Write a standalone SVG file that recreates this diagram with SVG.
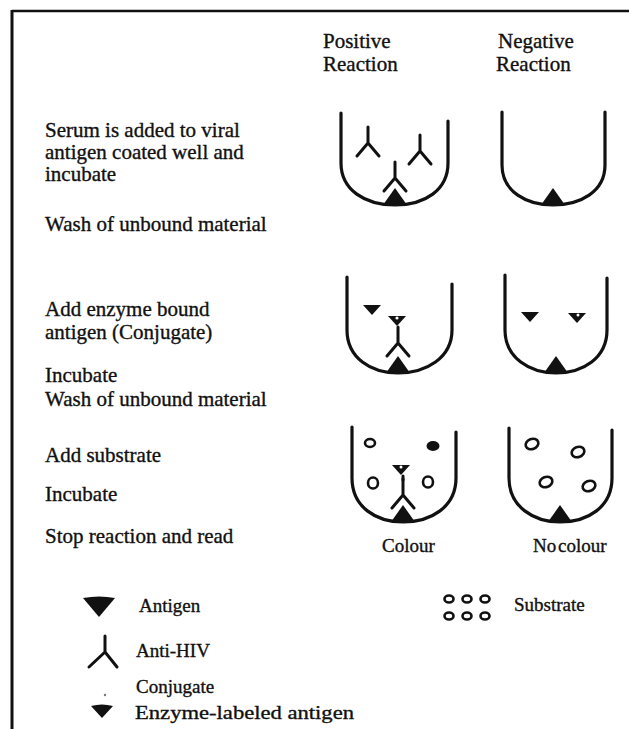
<svg xmlns="http://www.w3.org/2000/svg" xmlns:xlink="http://www.w3.org/1999/xlink" width="629" height="729" viewBox="0 0 629 729">
  <style>
    text { font-family: "Liberation Serif", "Times New Roman", serif; fill: #111; stroke: #111; stroke-width: 0.35; }
    .hdr { font-size: 21px; }
    .step { font-size: 21px; }
    .lg { font-size: 19px; }
    .well { fill: none; stroke: #111; stroke-width: 3.2; stroke-linecap: round; stroke-linejoin: round; }
    .ab { fill: none; stroke: #111; stroke-width: 3; stroke-linecap: round; stroke-linejoin: round; }
    .solid { fill: #111; stroke: none; }
    .sub { fill: none; stroke: #111; stroke-width: 2.6; }
    .frame { stroke: #111; fill: none; }
  </style>
  <defs>
    <!-- antibody: stem above, two arms spreading downward; origin at the fork -->
    <path id="ab" class="ab" d="M0,-16 V0 M-11,13 L0,0 L11,13"/>
    <!-- coated antigen: upward triangle, origin at base centre -->
    <polygon id="ag" class="solid" points="-12,0 0,-17 12,0"/>
    <!-- enzyme-labelled antigen: small downward triangle, origin at top centre -->
    <polygon id="conj" class="solid" points="-9,0 9,0 0,10"/>
  </defs>

  <rect width="629" height="729" fill="#fff"/>

  <!-- frame -->
  <g id="frame">
    <line class="frame" x1="12" y1="11" x2="629" y2="11" stroke-width="2.5"/>
    <line class="frame" x1="12" y1="10" x2="12" y2="729" stroke-width="3"/>
  </g>

  <!-- column headers -->
  <g id="header-positive">
    <text class="hdr" x="323" y="48">Positive</text>
    <text class="hdr" x="323" y="71">Reaction</text>
  </g>
  <g id="header-negative">
    <text class="hdr" x="498" y="48">Negative</text>
    <text class="hdr" x="496" y="71">Reaction</text>
  </g>

  <!-- procedure steps -->
  <g id="step-1">
    <text class="step" x="45" y="137">Serum is added to viral</text>
    <text class="step" x="45" y="159">antigen coated well and</text>
    <text class="step" x="45" y="181">incubate</text>
    <text class="step" x="45" y="231">Wash of unbound material</text>
  </g>
  <g id="step-2">
    <text class="step" x="45" y="316">Add enzyme bound</text>
    <text class="step" x="45" y="339">antigen (Conjugate)</text>
    <text class="step" x="45" y="382">Incubate</text>
    <text class="step" x="45" y="406">Wash of unbound material</text>
  </g>
  <g id="step-3">
    <text class="step" x="45" y="462">Add substrate</text>
    <text class="step" x="45" y="501">Incubate</text>
    <text class="step" x="45" y="543">Stop reaction and read</text>
  </g>

  <!-- row 1: serum on antigen-coated wells -->
  <g id="well-pos-1">
    <path class="well" d="M341,113 V163 C341,190 365,205 395,205 C425,205 448,190 448,163 V121"/>
    <use xlink:href="#ag" x="395" y="205"/>
    <use xlink:href="#ab" x="368" y="143"/>
    <use xlink:href="#ab" x="420" y="151"/>
    <use xlink:href="#ab" x="395" y="178"/>
  </g>
  <g id="well-neg-1">
    <path class="well" d="M502,112 V165 C502,192 527,205 553,205 C580,205 605,192 605,165 V112"/>
    <use xlink:href="#ag" x="553" y="205"/>
  </g>

  <!-- row 2: conjugate added -->
  <g id="well-pos-2">
    <path class="well" d="M347,277 V330 C347,358 371,373 398,373 C426,373 452,358 452,330 V284"/>
    <use xlink:href="#ag" x="398" y="373"/>
    <use xlink:href="#ab" x="398" y="343"/>
    <use xlink:href="#conj" x="397" y="316"/>
    <circle cx="397" cy="318" r="1.6" fill="#fff"/>
    <use xlink:href="#conj" x="372" y="305"/>
  </g>
  <g id="well-neg-2">
    <path class="well" d="M505,275 V330 C505,358 530,373 556,373 C583,373 607,358 607,330 V278"/>
    <use xlink:href="#ag" x="556" y="373"/>
    <use xlink:href="#conj" x="530" y="312"/>
    <use xlink:href="#conj" x="577" y="313"/>
    <circle cx="578" cy="315" r="1.5" fill="#fff"/>
  </g>

  <!-- row 3: substrate added -->
  <g id="well-pos-3">
    <path class="well" d="M352,427 V478 C352,507 376,522 403,522 C431,522 456,507 456,478 V432"/>
    <use xlink:href="#ag" x="403" y="522"/>
    <use xlink:href="#ab" x="403" y="495"/>
    <line class="ab" x1="403" y1="476" x2="403" y2="480"/>
    <use xlink:href="#conj" x="401" y="465"/>
    <circle cx="401" cy="467" r="1.5" fill="#fff"/>
    <ellipse class="sub" cx="370" cy="443" rx="5" ry="4" stroke-width="3.2"/>
    <ellipse cx="433" cy="446" rx="6.5" ry="5" fill="#111"/>
    <ellipse class="sub" cx="373" cy="483" rx="5" ry="5.5"/>
    <ellipse class="sub" cx="428" cy="482" rx="5" ry="5.5"/>
    <text class="lg" x="382" y="552" font-size="18">Colour</text>
  </g>
  <g id="well-neg-3">
    <path class="well" d="M509,428 V478 C509,507 534,522 560,522 C588,522 612,507 612,478 V430"/>
    <use xlink:href="#ag" x="560" y="522"/>
    <ellipse class="sub" cx="532" cy="444" rx="6.5" ry="5" transform="rotate(-20 532 444)"/>
    <ellipse class="sub" cx="578" cy="452" rx="6.5" ry="5" transform="rotate(-20 578 452)"/>
    <ellipse class="sub" cx="546" cy="482" rx="6.5" ry="5" transform="rotate(-20 546 482)"/>
    <ellipse class="sub" cx="589" cy="486" rx="6.5" ry="5" transform="rotate(-20 589 486)"/>
    <text class="lg" x="533" y="552" font-size="19" word-spacing="-3">No colour</text>
  </g>

  <!-- legend -->
  <g id="legend-antigen">
    <path class="solid" d="M83,598 Q99,595 115,598 L99,617 Z"/>
    <text class="lg" x="139" y="612">Antigen</text>
  </g>
  <g id="legend-anti-hiv">
    <path class="ab" d="M105,636 V652 M89,667 L105,652 L117,667"/>
    <text class="lg" x="136" y="657" font-size="20">Anti-HIV</text>
  </g>
  <g id="legend-conjugate">
    <circle cx="105" cy="695" r="1.2" fill="#777"/>
    <path class="solid" d="M91,706 Q102,703 113,706 L102,718 Z"/>
    <text class="lg" x="136" y="693" font-size="18">Conjugate</text>
    <text class="lg" x="135" y="719" font-size="22" textLength="219" lengthAdjust="spacingAndGlyphs">Enzyme-labeled antigen</text>
  </g>
  <g id="legend-substrate">
    <ellipse class="sub" cx="449" cy="599" rx="4.5" ry="3.5"/>
    <ellipse class="sub" cx="467" cy="599" rx="4.5" ry="3.5"/>
    <ellipse class="sub" cx="485" cy="599" rx="4.5" ry="3.5"/>
    <ellipse class="sub" cx="449" cy="616" rx="4.5" ry="3.5"/>
    <ellipse class="sub" cx="467" cy="616" rx="4.5" ry="3.5"/>
    <ellipse class="sub" cx="485" cy="616" rx="4.5" ry="3.5"/>
    <text class="lg" x="514" y="611" font-size="17">Substrate</text>
  </g>
</svg>
